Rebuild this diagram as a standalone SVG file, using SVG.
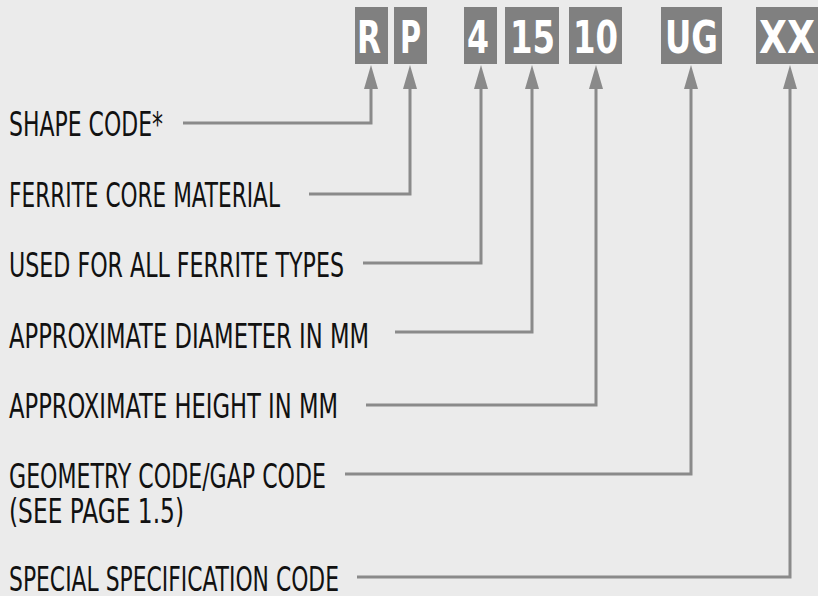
<svg xmlns="http://www.w3.org/2000/svg" width="818" height="596" viewBox="0 0 818 596">
<defs>
<style>
.lbl{font-family:"Liberation Sans Narrow","DejaVu Sans Condensed","Liberation Sans",sans-serif;font-size:34.5px;fill:#111}
.box{fill:#808080}
.code{font-family:"Liberation Sans Narrow","DejaVu Sans Condensed","Liberation Sans",sans-serif;font-size:45px;font-weight:bold;fill:#fff}
.con{fill:none;stroke:#8a8a8a;stroke-width:3}
</style>
<marker id="ah" markerUnits="userSpaceOnUse" viewBox="0 0 24 14" markerWidth="24" markerHeight="14" refX="9" refY="7" orient="auto">
<path d="M0,0 L24,7 L0,14 z" fill="#8a8a8a"/>
</marker>
</defs>
<rect width="818" height="596" fill="#ebebeb"/>
<g id="code-R"><rect class="box" x="355" y="7" width="33" height="57"/><text class="code" x="357" y="53" textLength="24" lengthAdjust="spacingAndGlyphs">R</text></g>
<g id="code-P"><rect class="box" x="394" y="7" width="33" height="57"/><text class="code" x="400" y="53" textLength="21" lengthAdjust="spacingAndGlyphs">P</text></g>
<g id="code-4"><rect class="box" x="464" y="7" width="33" height="57"/><text class="code" x="467" y="53" textLength="22" lengthAdjust="spacingAndGlyphs">4</text></g>
<g id="code-15"><rect class="box" x="505" y="7" width="54" height="57"/><text class="code" x="510" y="53" textLength="45" lengthAdjust="spacingAndGlyphs">15</text></g>
<g id="code-10"><rect class="box" x="569" y="7" width="53" height="57"/><text class="code" x="573" y="53" textLength="45" lengthAdjust="spacingAndGlyphs">10</text></g>
<g id="code-UG"><rect class="box" x="661" y="7" width="61" height="57"/><text class="code" x="665" y="53" textLength="53" lengthAdjust="spacingAndGlyphs">UG</text></g>
<g id="code-XX"><rect class="box" x="756" y="7" width="62" height="57"/><text class="code" x="759" y="53" textLength="56" lengthAdjust="spacingAndGlyphs">XX</text></g>
<g id="label-shape"><text class="lbl" x="9" y="136" textLength="154" lengthAdjust="spacingAndGlyphs">SHAPE CODE*</text></g>
<g id="label-material"><text class="lbl" x="9" y="206.5" textLength="271" lengthAdjust="spacingAndGlyphs">FERRITE CORE MATERIAL</text></g>
<g id="label-types"><text class="lbl" x="9" y="276.5" textLength="335" lengthAdjust="spacingAndGlyphs">USED FOR ALL FERRITE TYPES</text></g>
<g id="label-diameter"><text class="lbl" x="9" y="347.5" textLength="360" lengthAdjust="spacingAndGlyphs">APPROXIMATE DIAMETER IN MM</text></g>
<g id="label-height"><text class="lbl" x="9" y="417.5" textLength="329" lengthAdjust="spacingAndGlyphs">APPROXIMATE HEIGHT IN MM</text></g>
<g id="label-geometry"><text class="lbl" x="9" y="487.5" textLength="317" lengthAdjust="spacingAndGlyphs">GEOMETRY CODE/GAP CODE</text><text class="lbl" x="9" y="522.5" textLength="175" lengthAdjust="spacingAndGlyphs">(SEE PAGE 1.5)</text></g>
<g id="label-special"><text class="lbl" x="9" y="591" textLength="330" lengthAdjust="spacingAndGlyphs">SPECIAL SPECIFICATION CODE</text></g>
<g id="connectors">
<path class="con" d="M183,123 H371 V80" marker-end="url(#ah)"/>
<path class="con" d="M309,194 H410 V80" marker-end="url(#ah)"/>
<path class="con" d="M363,263 H481 V80" marker-end="url(#ah)"/>
<path class="con" d="M395,332 H532 V80" marker-end="url(#ah)"/>
<path class="con" d="M366,405 H596 V80" marker-end="url(#ah)"/>
<path class="con" d="M345,474 H691 V80" marker-end="url(#ah)"/>
<path class="con" d="M357,577 H790 V80" marker-end="url(#ah)"/>
</g>
</svg>
